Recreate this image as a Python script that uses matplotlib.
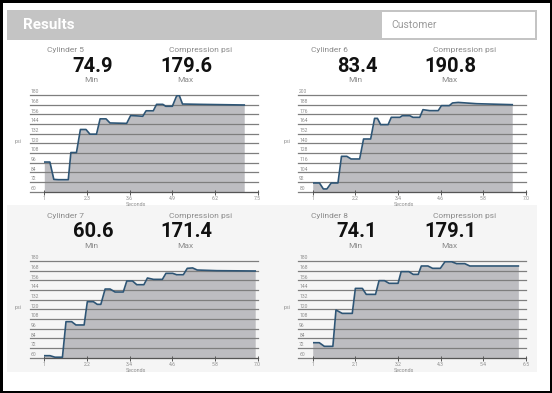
import matplotlib
matplotlib.use('Agg')
import matplotlib.pyplot as plt
from matplotlib.patches import Rectangle

W, H = 552, 393
plt.rcParams['font.family'] = ['Roboto', 'DejaVu Sans']

# ---------------- data ----------------
cylinders = ['Cylinder 5', 'Cylinder 6', 'Cylinder 7', 'Cylinder 8']
min_values = ['74.9', '83.4', '60.6', '74.1']
max_values = ['179.6', '190.8', '171.4', '179.1']

c5_seconds = [1.0, 1.17, 1.29, 1.43, 1.73, 1.81, 1.98, 2.10, 2.27, 2.39, 2.59, 2.70, 2.88,
              3.0, 3.51, 3.63, 3.85, 4.0, 4.10, 4.32, 4.42, 4.61, 4.70, 4.90, 5.03, 5.11,
              5.21, 5.74, 7.09]
c5_psi = [96.8, 96.8, 75.3, 74.9, 74.9, 108.6, 108.6, 137.2, 137.2, 131.4, 131.4, 150.4, 150.4,
          145.3, 144.8, 154.5, 154.0, 153.6, 160.4, 160.4, 168.4, 168.4, 166.0, 166.0, 178.8, 179.6,
          168.8, 168.4, 167.6]

c6_seconds = [1.0, 1.19, 1.30, 1.40, 1.52, 1.71, 1.81, 1.96, 2.08, 2.32, 2.43, 2.63, 2.74,
              2.82, 2.91, 3.12, 3.21, 3.45, 3.52, 3.73, 3.82, 4.01, 4.10, 4.29, 4.53, 4.62,
              4.84, 4.93, 5.09, 5.61, 6.61]
c6_psi = [90.8, 90.8, 83.4, 83.4, 90.8, 90.8, 123.9, 123.9, 120.6, 120.6, 145.4, 145.4, 171.0,
          171.0, 163.2, 163.2, 172.3, 172.3, 174.3, 174.3, 172.3, 172.3, 181.8, 180.6, 180.6, 186.8,
          186.8, 190.1, 190.8, 189.2, 188.0]

c7_seconds = [1.0, 1.16, 1.30, 1.51, 1.61, 1.77, 1.89, 2.12, 2.21, 2.38, 2.49, 2.59, 2.71,
              2.85, 2.99, 3.22, 3.32, 3.48, 3.60, 3.80, 3.90, 4.07, 4.32, 4.42, 4.61, 4.72,
              4.91, 5.02, 5.17, 5.30, 5.85, 6.93]
c7_psi = [62.5, 62.5, 60.6, 60.6, 104.7, 104.7, 100.6, 100.6, 129.5, 129.5, 126.2, 126.2, 145.2,
          145.2, 141.5, 141.5, 155.2, 155.2, 150.6, 150.6, 158.9, 157.2, 157.2, 164.7, 164.7, 163.0,
          163.0, 170.9, 171.4, 168.8, 168.0, 167.6]

c8_seconds = [1.0, 1.17, 1.30, 1.52, 1.60, 1.76, 2.02, 2.10, 2.28, 2.38, 2.62, 2.71, 2.85,
              2.97, 3.20, 3.28, 3.48, 3.59, 3.72, 3.80, 3.97, 4.09, 4.29, 4.41, 4.58, 4.71,
              4.92, 5.05, 5.66, 6.30]
c8_psi = [78.6, 78.6, 74.1, 74.1, 119.2, 115.0, 115.0, 146.0, 146.0, 138.6, 138.6, 155.6, 155.6,
          152.3, 152.3, 166.8, 166.8, 163.4, 163.4, 173.8, 173.8, 170.9, 170.9, 179.1, 179.1, 176.7,
          176.7, 173.8, 173.8, 173.8]

x_ticks_5 = [1, 2.3, 3.6, 4.9, 6.2, 7.5]
x_labels_5 = ['1', '2.3', '3.6', '4.9', '6.2', '7.5']
x_ticks_6 = [1, 2.2, 3.4, 4.6, 5.8, 7.0]
x_labels_6 = ['1', '2.2', '3.4', '4.6', '5.8', '7.0']
x_ticks_7 = [1, 2.2, 3.4, 4.6, 5.8, 7.0]
x_labels_7 = ['1', '2.2', '3.4', '4.6', '5.8', '7.0']
x_ticks_8 = [1, 2.1, 3.2, 4.3, 5.4, 6.5]
x_labels_8 = ['1', '2.1', '3.2', '4.3', '5.4', '6.5']
y_ticks_5 = [60, 72, 84, 96, 108, 120, 132, 144, 156, 168, 180]
y_ticks_6 = [80, 92, 104, 116, 128, 140, 152, 164, 176, 188, 200]
y_ticks_7 = [60, 72, 84, 96, 108, 120, 132, 144, 156, 168, 180]
y_ticks_8 = [60, 72, 84, 96, 108, 120, 132, 144, 156, 168, 180]

# ---------------- style ----------------
LABEL_GRAY = '#8a8a8a'
TICK_GRAY = '#8e8e8e'
FILL = '#bdbdc1'
LINE = '#2e5575'
GRID = '#7e7e7e'
SPINE = '#555555'
BAR = '#c4c4c4'

fig = plt.figure(figsize=(W / 100, H / 100), dpi=100)


def fx(p):
    return p / W


def fy(p):
    return 1 - p / H


def frect(x0, y0, x1, y1, **kw):
    r = Rectangle((fx(x0), fy(y1)), fx(x1) - fx(x0), fy(y0) - fy(y1),
                  transform=fig.transFigure, **kw)
    fig.patches.append(r)
    return r


# header bar
frect(7, 9.5, 537, 40, facecolor=BAR, edgecolor='none', zorder=-2)
frect(382, 12, 535, 37.5, facecolor='white', edgecolor='none', zorder=-1)
fig.text(fx(23), fy(25), 'Results', color='white', fontsize=11, fontweight='bold',
         ha='left', va='center')
fig.text(fx(391), fy(25.5), 'Customer', color='#9a9a9a', fontsize=7.5,
         ha='left', va='center')

# bottom light background
frect(7, 205, 537, 372, facecolor='#f5f5f5', edgecolor='none', zorder=-2)


def panel(tx, ty, axx, name, vmin, vmax, xs, ys, xt, xtl, yt):
    # headings
    fig.text(fx(47 + tx), fy(50 + ty), name, ha='left', va='center',
             fontsize=6, color=LABEL_GRAY)
    fig.text(fx(201 + tx), fy(50 + ty), 'Compression psi', ha='center', va='center',
             fontsize=6, color=LABEL_GRAY)
    fig.text(fx(93 + tx), fy(66 + ty), vmin, ha='center', va='center',
             fontsize=14.5, fontweight='bold', color='#111111')
    fig.text(fx(186 + tx), fy(66 + ty), vmax, ha='center', va='center',
             fontsize=14.5, fontweight='bold', color='#111111')
    fig.text(fx(91 + tx), fy(80 + ty), 'Min', ha='center', va='center',
             fontsize=6, color=LABEL_GRAY)
    fig.text(fx(185 + tx), fy(80 + ty), 'Max', ha='center', va='center',
             fontsize=6, color=LABEL_GRAY)

    x0, x1 = 44.3 + axx, 257.7 + axx
    y0, y1 = 95 + ty, 191.7 + ty
    ax = fig.add_axes([fx(x0), fy(y1), fx(x1) - fx(x0), fy(y0) - fy(y1)])
    ax.set_facecolor('none')
    ax.set_xlim(xt[0], xt[-1])
    ax.set_ylim(yt[0], yt[-1])
    ax.fill_between(xs, ys, yt[0], color=FILL, lw=0, zorder=1)
    ax.plot(xs, ys, color=LINE, lw=1.2, zorder=4, solid_joinstyle='round')
    trans = ax.get_yaxis_transform()
    ext = -14.3 / (x1 - x0)
    for v in yt:
        ax.plot([ext, 1], [v, v], transform=trans, color=GRID, lw=0.9,
                clip_on=False, zorder=2)
        ax.annotate(str(v), xy=(ext + 0.004, v), xycoords=trans, xytext=(0, 0.6),
                    textcoords='offset points', fontsize=3.6, color=TICK_GRAY,
                    ha='left', va='bottom', annotation_clip=False)
    ax.text(-26 / (x1 - x0), 0.517, 'psi', transform=ax.transAxes, fontsize=3.8,
            color=TICK_GRAY, ha='center', va='center')
    ax.text(0.43, -0.13, 'Seconds', transform=ax.transAxes, fontsize=3.8,
            color=TICK_GRAY, ha='center', va='center')
    for s in ['top', 'right', 'left']:
        ax.spines[s].set_visible(False)
    ax.spines['bottom'].set_color(SPINE)
    ax.spines['bottom'].set_linewidth(0.8)
    ax.spines['bottom'].set_zorder(3)
    ax.set_yticks([])
    ax.set_xticks(xt, xtl)
    ax.tick_params(axis='x', direction='inout', length=3.6, width=0.7, color=SPINE,
                   labelsize=3.6, labelcolor=TICK_GRAY, pad=1.5)
    return ax


panel(0, 0, 0, cylinders[0], min_values[0], max_values[0], c5_seconds, c5_psi,
      x_ticks_5, x_labels_5, y_ticks_5)
panel(264, 0, 268.4, cylinders[1], min_values[1], max_values[1], c6_seconds, c6_psi,
      x_ticks_6, x_labels_6, y_ticks_6)
panel(0, 166, 0, cylinders[2], min_values[2], max_values[2], c7_seconds, c7_psi,
      x_ticks_7, x_labels_7, y_ticks_7)
panel(264, 166, 268.4, cylinders[3], min_values[3], max_values[3], c8_seconds, c8_psi,
      x_ticks_8, x_labels_8, y_ticks_8)

# outer black border
frect(0, 0, W, H, facecolor='none', edgecolor='black', linewidth=3.6, zorder=10)

fig.savefig('out.png', dpi=100)
